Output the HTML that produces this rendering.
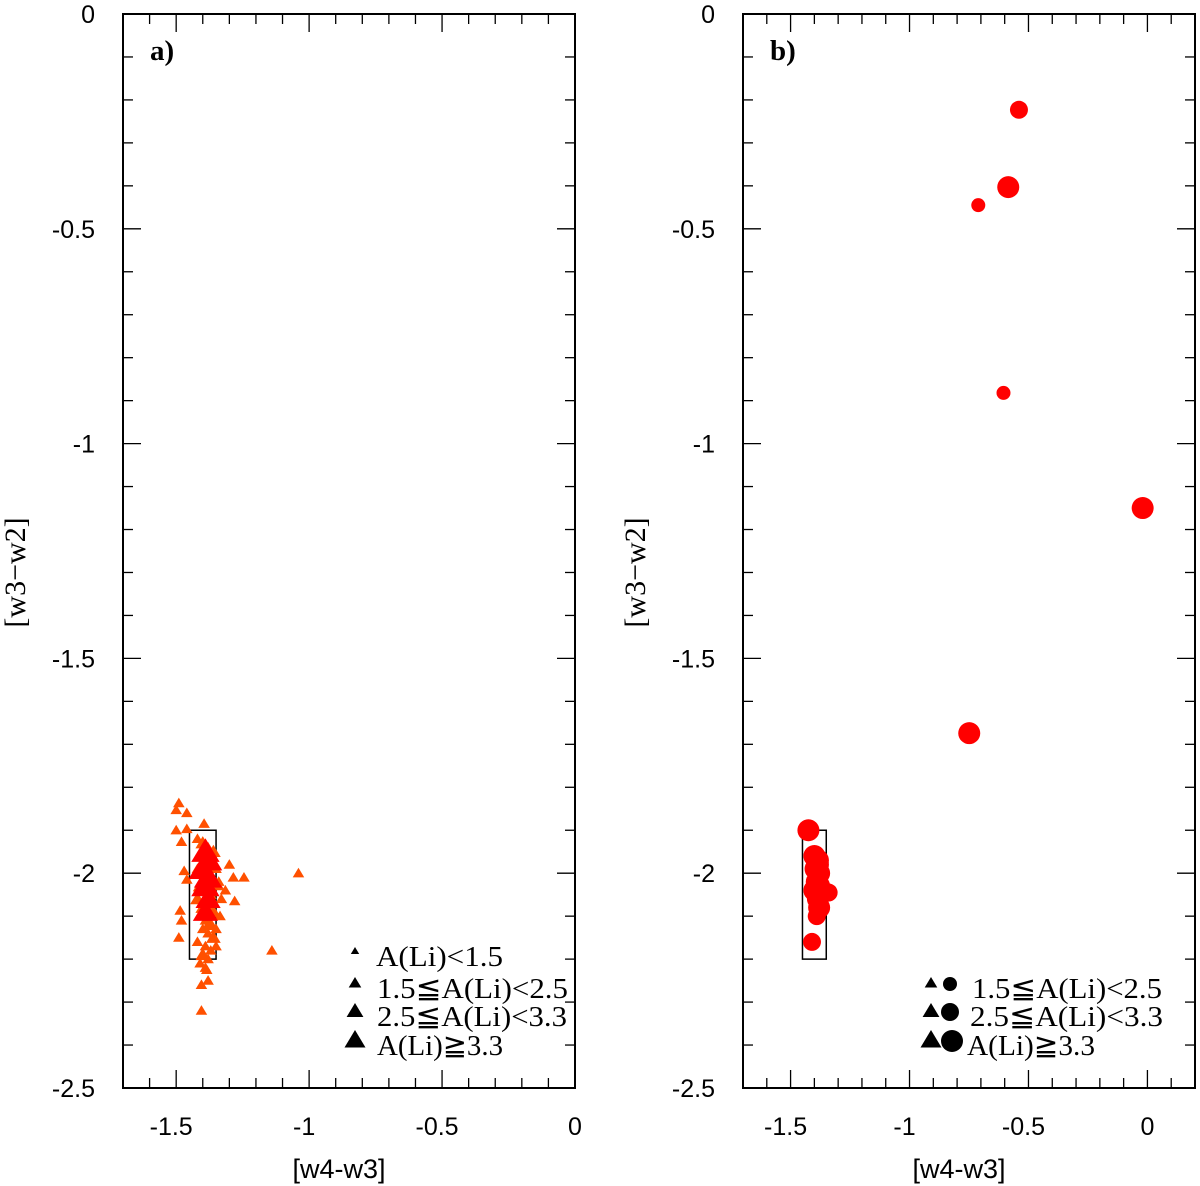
<!DOCTYPE html>
<html><head><meta charset="utf-8"><style>
body{margin:0;background:#fff;}
svg{display:block;font-family:"Liberation Sans",sans-serif;}
.tk{font-size:25px;}
.xt{font-size:27px;}
.lg{font-family:"Liberation Serif",serif;font-size:29px;}
.yt{font-family:"Liberation Serif",serif;font-size:30px;}
</style></head><body>
<svg id="c" width="1200" height="1186"></svg>
<script>
// panel a data
const aX=[-1.49,-1.50,-1.46,-1.395,-1.50,-1.46,-1.48,-1.30,-1.285,-1.245,-1.04,-1.47,-1.46,-1.315,-1.28,-1.485,-1.48,-1.335,-1.49,-1.35,-1.14,-1.385,-1.38,-1.405,-1.405,
 -1.42,-1.40,-1.38,-1.36,-1.41,-1.39,-1.37,-1.42,-1.40,-1.38,-1.36,-1.41,-1.39,-1.37,-1.42,-1.40,-1.38,-1.36,-1.35,-1.34,-1.41,-1.39,-1.37,-1.40,-1.38,-1.36,-1.42,-1.39,-1.37,-1.40,-1.38,-1.41,-1.39,-1.37,-1.40,-1.38,-1.34,-1.33,-1.35,
 -1.39,-1.38,-1.40,-1.38,-1.39,-1.38,-1.39];
const aY=[-1.837,-1.853,-1.86,-1.885,-1.90,-1.897,-1.927,-1.98,-2.01,-2.01,-2.0,-1.995,-2.015,-2.04,-2.065,-2.087,-2.11,-2.10,-2.15,-2.17,-2.18,-2.225,-2.25,-2.26,-2.32,
 -1.92,-1.93,-1.94,-1.95,-1.96,-1.97,-1.98,-1.99,-2.00,-2.01,-2.02,-2.03,-2.04,-2.05,-2.06,-2.07,-2.08,-2.09,-1.99,-2.02,-2.10,-2.11,-2.12,-2.13,-2.14,-2.15,-2.16,-2.17,-2.18,-2.19,-2.20,-2.21,-2.22,-2.05,-2.08,-2.12,-2.03,-2.06,-2.13,
 -1.95,-1.97,-1.99,-2.01,-2.03,-2.06,-2.09];
const aS=[0,0,0,0,0,0,0,0,0,0,0,0,0,0,0,0,0,0,0,0,0,0,0,0,0,
 0,1,0,1,0,1,0,0,1,0,0,1,0,0,1,0,0,1,0,0,0,0,1,0,0,1,0,0,0,1,0,0,0,0,1,0,0,0,0,
 3,3,3,3,3,2,2];
// panel b data
const bX=[-1.425,-0.54,-0.585,-0.711,-0.605,-0.02,-0.749,-1.40,-1.385,-1.38,-1.39,-1.40,-1.385,-1.38,-1.39,-1.395,-1.38,-1.34,-1.385,-1.41];
const bY=[-1.90,-0.223,-0.403,-0.445,-0.882,-1.15,-1.674,-1.96,-1.98,-2.00,-2.02,-2.04,-2.06,-2.08,-2.10,-1.99,-2.03,-2.045,-1.97,-2.16];
const bS=[3,2,3,1,1,3,3,3,3,3,3,3,3,3,2,3,3,2,3,2];
const xTicks=[-1.5,-1,-0.5,0];
const xTickLabels=["-1.5","-1","-0.5","0"];
const yTicks=[0,-0.5,-1,-1.5,-2,-2.5];
const yTickLabels=["0","-0.5","-1","-1.5","-2","-2.5"];

const NS="http://www.w3.org/2000/svg";
const svg=document.getElementById('c');
function mk(t,a,p){const e=document.createElementNS(NS,t);for(const k in a)e.setAttribute(k,a[k]);(p||svg).appendChild(e);return e;}
const top0=14,bot=1088;
function Y(v){return top0+(0-v)/2.5*(bot-top0);}
function panel(L,R,xmin,xmax,label,id){
  const g=mk('g',{});
  
  
  const X=v=>L+(v-xmin)/(xmax-xmin)*(R-L);
  const fr=mk('rect',{x:L,y:top0,width:R-L,height:bot-top0,fill:'none',stroke:'#000','stroke-width':2},g);
  
  
  for(let i=Math.ceil(xmin*10);i<=Math.floor(xmax*10);i++){
    const v=i/10,x=X(v),maj=(i%5===0),l=maj?18:10;
    mk('line',{x1:x,x2:x,y1:bot,y2:bot-l,stroke:'#000','stroke-width':1.3},g);
    mk('line',{x1:x,x2:x,y1:top0,y2:top0+l,stroke:'#000','stroke-width':1.3},g);
  }
  for(let i=0;i<=25;i++){
    const y=Y(-i/10),maj=(i%5===0),l=maj?18:10;
    mk('line',{x1:L,x2:L+l,y1:y,y2:y,stroke:'#000','stroke-width':1.3},g);
    mk('line',{x1:R,x2:R-l,y1:y,y2:y,stroke:'#000','stroke-width':1.3},g);
  }
  xTicks.forEach((v,i)=>{const t=mk('text',{x:X(v)-(v<0?5:0),y:1135,'text-anchor':'middle',class:'tk'},g);t.textContent=xTickLabels[i];
    
    });
  yTicks.forEach((v,i)=>{const t=mk('text',{x:L-28,y:Y(v)+9,'text-anchor':'end',class:'tk'},g);t.textContent=yTickLabels[i];
    
    });
  const xt=mk('text',{x:(L+R)/2-10,y:1178,'text-anchor':'middle',class:'xt'},g);xt.textContent='[w4-w3]';
  
  
  const yt=mk('text',{x:0,y:0,'text-anchor':'middle',transform:`translate(${L-98},${Y(-1.3)}) rotate(-90)`,class:'yt'},g);yt.textContent='[w3−w2]';
  
  
  const pl=mk('text',{x:L+27,y:60,class:'lg','font-weight':'bold'},g);pl.textContent=label;
  
  
  const bx=mk('rect',{x:X(-1.45),y:Y(-1.9),width:X(-1.35)-X(-1.45),height:Y(-2.2)-Y(-1.9),fill:'none',stroke:'#000','stroke-width':1.5},g);
  
  
  return {g,X};
}
const triR=[5.5,7,8,9.5];
function tri(cx,cy,r,fill,p){return mk('polygon',{points:`${cx},${cy-r} ${cx-r*1.05},${cy+r*0.75} ${cx+r*1.05},${cy+r*0.75}`,fill:fill},p);}
const A=panel(123,575,-1.7,0,'a)','a');
aX.forEach((v,i)=>{const s=aS[i];const t=tri(A.X(v),Y(aY[i]),triR[s]+(s>=2?4:0),s>=2?'#ff0000':'#ff5000',A.g);
  
  });
const B=panel(743,1195,-1.7,0.2,'b)','b');
const cR=[5,7,9,11];
bX.forEach((v,i)=>{const c=mk('circle',{cx:B.X(v),cy:Y(bY[i]),r:cR[bS[i]],fill:'#ff0000'},B.g);
  
  });
const la=[['A(Li)<1.5',958],['1.5≦A(Li)<2.5',990],['2.5≦A(Li)<3.3',1018],['A(Li)≧3.3',1047]];
la.forEach((d,i)=>{const r=[4,6,8,10][i];tri(355,d[1]-7,r,'#000',A.g);
  const t=mk('text',{x:[376,377,377,377][i],y:d[1]+8,class:'lg',textLength:[127,191,190,126][i],lengthAdjust:'spacingAndGlyphs'},A.g);t.textContent=d[0];
  
  });
const lb=[['1.5≦A(Li)<2.5',990],['2.5≦A(Li)<3.3',1018],['A(Li)≧3.3',1047]];
lb.forEach((d,i)=>{const r=[6,8,10][i],cr=[7,9,11][i];tri(931,d[1]-7,r,'#000',B.g);
  mk('circle',{cx:941+cr+(i==0?2:0),cy:d[1]-6,r:cr,fill:'#000'},B.g);
  const t=mk('text',{x:[972,970,967][i],y:d[1]+8,class:'lg',textLength:[190,193,128][i],lengthAdjust:'spacingAndGlyphs'},B.g);t.textContent=d[0];
  
  });
</script>
</body></html>
